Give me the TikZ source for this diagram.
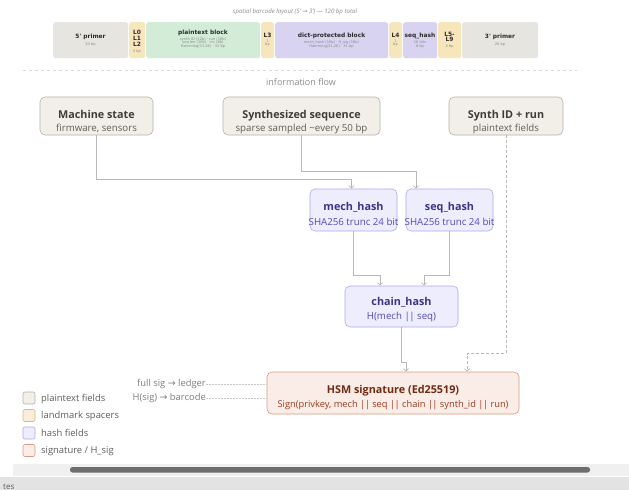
\documentclass[tikz,border=0pt]{standalone}
\usepackage{fontspec}
\setmainfont{Open Sans}
\newfontfamily\dv{DejaVu Sans}
\usetikzlibrary{arrows.meta,calc}
\definecolor{plfill}{HTML}{F1EFE8}
\definecolor{pldraw}{HTML}{B4B2A9}
\definecolor{pltext}{HTML}{3D3D3A}
\definecolor{plsub}{HTML}{5F5E5A}
\definecolor{hfill}{HTML}{EEEDFE}
\definecolor{hdraw}{HTML}{AFA9EC}
\definecolor{htext}{HTML}{3C3489}
\definecolor{hsub}{HTML}{534AB7}
\definecolor{sfill}{HTML}{FAECE7}
\definecolor{sdraw}{HTML}{D99A80}
\definecolor{stext}{HTML}{712B13}
\definecolor{ssub}{HTML}{993C1D}
\definecolor{lmfill}{HTML}{FAEEDA}
\definecolor{lmdraw}{HTML}{DDB878}
\definecolor{bprimer}{HTML}{E6E5DF}
\definecolor{bland}{HTML}{F7E5BC}
\definecolor{bplain}{HTML}{D3ECD8}
\definecolor{bdict}{HTML}{D7D3F1}
\definecolor{btext}{HTML}{2C2C2A}
\definecolor{bsub}{HTML}{8A8A86}
\definecolor{lgray}{HTML}{B8B8B4}
\definecolor{cap}{HTML}{8C8C88}
\newcommand\dbar{|\kern-0.6pt|}
\begin{document}
\begin{tikzpicture}[x=1pt,y=-1pt,
  blk/.style={rounded corners=2.5pt, inner sep=0pt, anchor=north west, minimum height=36pt},
  bt/.style={inner sep=0pt, anchor=base, text=btext, font=\dv\bfseries\fontsize{5.9}{6}\selectfont},
  bs/.style={inner sep=0pt, anchor=base, text=bsub, font=\dv\fontsize{3.6}{4}\selectfont},
  box/.style={rounded corners=5pt, line width=0.6pt, inner sep=0pt},
  pbox/.style={box, fill=plfill, draw=pldraw},
  hbox/.style={box, fill=hfill, draw=hdraw},
  sbox/.style={box, fill=sfill, draw=sdraw},
  ttl/.style={anchor=base, inner sep=0pt, font=\bfseries\fontsize{10.8}{12}\selectfont},
  stl/.style={anchor=base, inner sep=0pt, font=\fontsize{9.7}{11}\selectfont},
  flow/.style={draw=lgray, line width=0.7pt, -{Straight Barb[length=2.5pt,width=5pt]}},
  dflow/.style={flow, dash pattern=on 3pt off 2pt},
  dotl/.style={draw=lgray!80, line width=0.5pt, dash pattern=on 1.5pt off 1.5pt},
  legsq/.style={rounded corners=2pt, line width=0.6pt, minimum width=12pt, minimum height=12pt, inner sep=0pt},
  legt/.style={anchor=base west, inner sep=0pt, text=plsub, font=\fontsize{9.4}{10}\selectfont}
]
\useasboundingbox (0,0) rectangle (629,490);
\fill[white] (0,0) rectangle (629,490);

% ---------- barcode layout ----------
\node[inner sep=0pt, text=cap, font=\itshape\fontsize{6.1}{7}\selectfont] (captop) at (295,12) {spatial barcode layout (5' {\dv →} 3') — 120 bp total};

\node[blk, fill=bprimer, minimum width=75pt] (p5) at (53,22) {};
\node[blk, fill=bland, minimum width=16pt] (l02) at (129,22) {};
\node[blk, fill=bplain, minimum width=114pt] (pt) at (146,22) {};
\node[blk, fill=bland, minimum width=13pt] (l3) at (261,22) {};
\node[blk, fill=bdict, minimum width=113pt] (dp) at (275,22) {};
\node[blk, fill=bland, minimum width=13pt] (l4) at (389,22) {};
\node[blk, fill=bdict, minimum width=34pt] (sqh) at (403,22) {};
\node[blk, fill=bland, minimum width=23pt] (l59) at (438,22) {};
\node[blk, fill=bprimer, minimum width=76pt] (p3) at (462,22) {};

\node[bt] (p5a) at (90.5,38.5) {5' primer};
\node[bs] (p5b) at (90.5,45) {20 bp};
\node[bt] (l02a) at (137,34.3) {L0};
\node[bt] (l02b) at (137,40.3) {L1};
\node[bt] (l02c) at (137,46.3) {L2};
\node[bs] (l02d) at (137,52) {3 bp};
\node[bt] (pta) at (203,34) {plaintext block};
\node[bs] (ptb) at (203,40.3) {synth ID (12b) · run (16b)};
\node[bs] (ptc) at (203,43.6) {seq len (16b) · inc (8b)};
\node[bs] (ptd) at (203,47) {Hamming(31,26) · 31 bp};
\node[bt] (l3a) at (267.5,37) {L3};
\node[bs] (l3b) at (267.5,42.3) {1};
\node[bs] (l3c) at (267.5,45.6) {bp};
\node[bt] (dpa) at (331.5,37) {dict-protected block};
\node[bs] (dpb) at (331.5,43.8) {mech\_hash (16b) · H\_sig (16b)};
\node[bs] (dpc) at (331.5,47.1) {Hamming(31,26) · 31 bp};
\node[bt] (l4a) at (395.5,37) {L4};
\node[bs] (l4b) at (395.5,42.3) {1};
\node[bs] (l4c) at (395.5,45.6) {bp};
\node[bt] (sqa) at (420,37) {seq\_hash};
\node[bs] (sqb) at (420,43.8) {16 bits};
\node[bs] (sqc) at (420,47.1) {8 bp};
\node[bt] (l59a) at (449.5,36) {L5-};
\node[bt] (l59b) at (449.5,41.5) {L9};
\node[bs] (l59c) at (449.5,47.3) {5 bp};
\node[bt] (p3a) at (500,38.5) {3' primer};
\node[bs] (p3b) at (500,45.5) {20 bp};

\draw[draw=black!14, line width=0.6pt, dash pattern=on 3pt off 3pt] (23,70) -- (577,70);
\node[inner sep=0pt, text=cap, font=\fontsize{9}{10}\selectfont] (flowcap) at (301,82) {information flow};

% ---------- flow boxes ----------
\node[pbox, minimum width=113pt, minimum height=38pt] (ms) at (96.5,116) {};
\node[pbox, minimum width=157pt, minimum height=38pt] (ss) at (301.5,116) {};
\node[pbox, minimum width=114pt, minimum height=38pt] (sid) at (506,116) {};
\node[hbox, minimum width=87pt, minimum height=42pt] (mh) at (353.5,210) {};
\node[hbox, minimum width=87pt, minimum height=42pt] (sh) at (449.5,210) {};
\node[hbox, minimum width=113pt, minimum height=41pt] (ch) at (401.5,306.5) {};
\node[sbox, minimum width=252pt, minimum height=42pt] (hsm) at (393,393) {};

\node[ttl, text=pltext] (mst) at (96.5,118) {Machine state};
\node[stl, text=plsub] (mss) at (96.5,131) {firmware, sensors};
\node[ttl, text=pltext] (sst) at (301.5,118) {Synthesized sequence};
\node[stl, text=plsub] (sss) at (301.5,131) {sparse sampled \textasciitilde every 50 bp};
\node[ttl, text=pltext] (sidt) at (506,118) {Synth ID + run};
\node[stl, text=plsub] (sids) at (506,131) {plaintext fields};
\node[ttl, text=htext] (mht) at (353.5,210) {mech\_hash};
\node[stl, text=hsub] (mhs) at (353.5,225.5) {SHA256 trunc 24 bit};
\node[ttl, text=htext] (sht) at (449.5,210) {seq\_hash};
\node[stl, text=hsub] (shs) at (449.5,225.5) {SHA256 trunc 24 bit};
\node[ttl, text=htext] (cht) at (401.5,305.5) {chain\_hash};
\node[stl, text=hsub] (chs) at (401.5,319.5) {H(mech \dbar\ seq)};
\node[ttl, text=stext] (hsmt) at (393,393) {HSM signature (Ed25519)};
\node[stl, text=ssub, font=\fontsize{9.3}{11}\selectfont] (hsms) at (393,407.5) {Sign(privkey, mech \dbar\ seq \dbar\ chain \dbar\ synth\_id \dbar\ run)};

% ---------- connectors ----------
\draw[flow] (ms.south) |- ($(mh.north)+(-2,-9)$) -- ($(mh.north)+(-2,0)$);
\draw[flow] (ss.south) |- ($(sh.north)+(-33.5,-17)$) -- ($(sh.north)+(-33.5,0)$);
\draw[flow] (mh.south) |- ($(ch.north)+(-21.5,-10)$) -- ($(ch.north)+(-21.5,0)$);
\draw[flow] (sh.south) |- ($(ch.north)+(22.5,-10)$) -- ($(ch.north)+(22.5,0)$);
\draw[flow] (ch.south) |- ($(hsm.north)+(13,-9)$) -- ($(hsm.north)+(13,0)$);
\draw[dflow] (sid.south) |- ($(hsm.north)+(74,-18)$) -- ($(hsm.north)+(74,0)$);

\node[anchor=east, inner sep=0pt, text=cap!90!black, font=\fontsize{9.4}{10}\selectfont] (fsl) at (206,384) {full sig {\dv →} ledger};
\node[anchor=east, inner sep=0pt, text=cap!90!black, font=\fontsize{9.4}{10}\selectfont] (hsl) at (206,398) {H(sig) {\dv →} barcode};
\draw[dotl] (fsl.east) -- (hsm.west |- fsl.east);
\draw[dotl] (hsl.east) -- (hsm.west |- hsl.east);

% ---------- legend ----------
\node[legsq, fill=plfill, draw=pldraw] (lg1) at (29,398) {};
\node[legsq, fill=lmfill, draw=lmdraw] (lg2) at (29,415.5) {};
\node[legsq, fill=hfill, draw=hdraw] (lg3) at (29,433) {};
\node[legsq, fill=sfill, draw=sdraw] (lg4) at (29,450.5) {};
\node[legt] (lg1t) at (41,401.3) {plaintext fields};
\node[legt] (lg2t) at (41,418.8) {landmark spacers};
\node[legt] (lg3t) at (41,436.3) {hash fields};
\node[legt] (lg4t) at (41,453.8) {signature / H\_sig};

% ---------- scrollbar / footer ----------
\fill[black!6] (13,464) rectangle (629,476);
\fill[black!57, rounded corners=2.5pt] (70,467) rectangle (590,472.5);
\fill[black!11] (0,476.5) rectangle (629,490);
\node[anchor=base west, inner sep=0pt, text=black!65, font=\fontsize{8}{10}\selectfont] (ftxt) at (3,489) {tes};
\end{tikzpicture}
\end{document}
